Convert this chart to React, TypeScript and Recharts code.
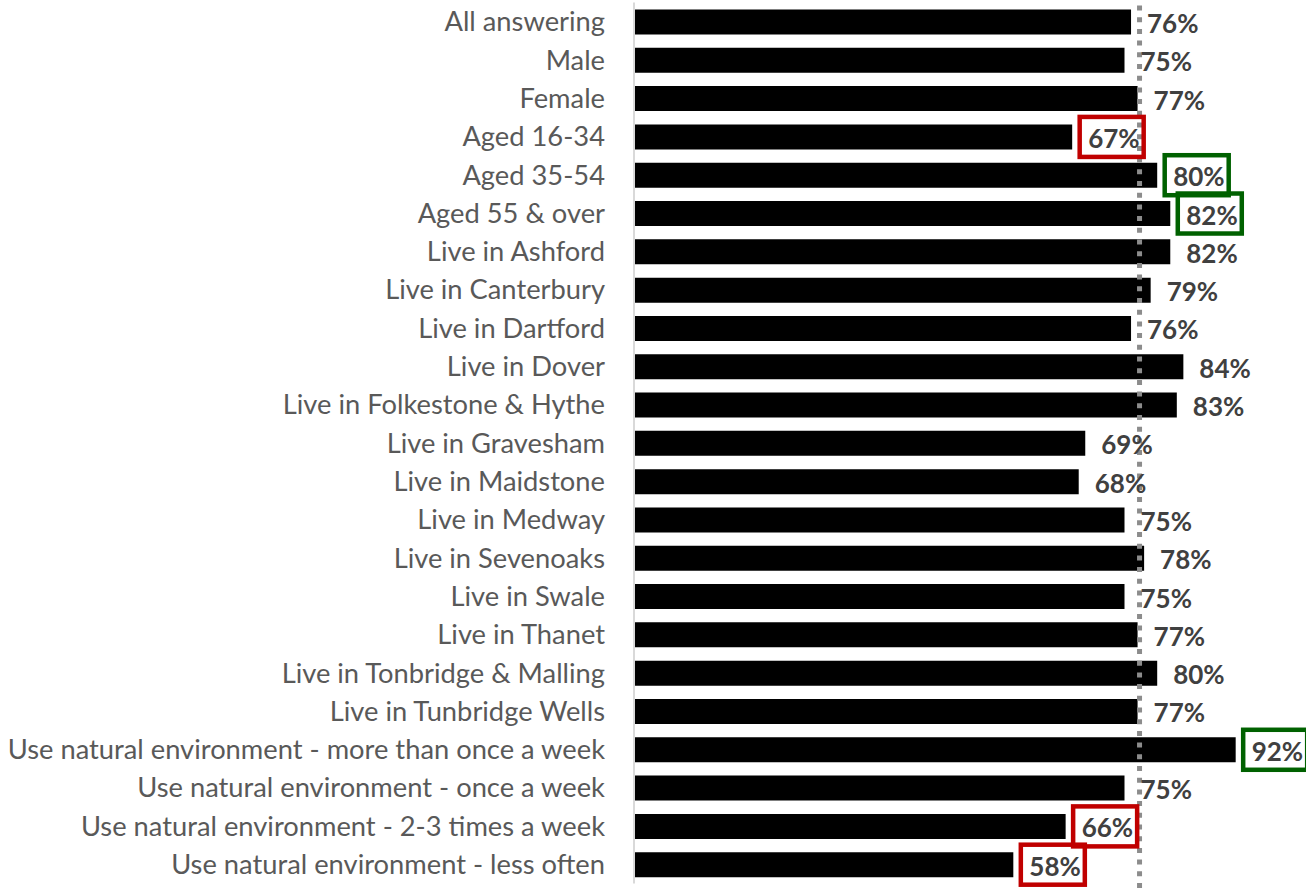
import { BarChart, Bar, XAxis, YAxis, LabelList, ReferenceLine } from "recharts";

const CATEGORIES = [
  "All answering",
  "Male",
  "Female",
  "Aged 16-34",
  "Aged 35-54",
  "Aged 55 & over",
  "Live in Ashford",
  "Live in Canterbury",
  "Live in Dartford",
  "Live in Dover",
  "Live in Folkestone & Hythe",
  "Live in Gravesham",
  "Live in Maidstone",
  "Live in Medway",
  "Live in Sevenoaks",
  "Live in Swale",
  "Live in Thanet",
  "Live in Tonbridge & Malling",
  "Live in Tunbridge Wells",
  "Use natural environment - more than once a week",
  "Use natural environment - once a week",
  "Use natural environment - 2-3 times a week",
  "Use natural environment - less often",
];

const VALUES = [76, 75, 77, 67, 80, 82, 82, 79, 76, 84, 83, 69, 68, 75, 78, 75, 77, 80, 77, 92, 75, 66, 58];

// "low" = significantly below average, "high" = significantly above
const FLAGS: (string | null)[] = [
  null, null, null, "low", "high", "high", null, null, null, null, null, null,
  null, null, null, null, null, null, null, "high", null, "low", "low",
];

const BENCHMARK = 77.3;

const FLAG_COLORS: Record<string, string> = { low: "#C00000", high: "#006100" };

const data = CATEGORIES.map((name, i) => ({ name, value: VALUES[i], flag: FLAGS[i] }));

const FONT = "Lato, 'Noto Sans', sans-serif";

function ValueLabel(props: any) {
  const { x, y, width, height, value, index } = props;
  const tx = x + width + 16;
  const cy = y + height / 2;
  const flag = FLAGS[index];
  return (
    <g>
      {flag && (
        <rect
          x={tx - 8.5}
          y={cy - 20}
          width={64}
          height={40}
          fill="none"
          stroke={FLAG_COLORS[flag]}
          strokeWidth={4.5}
        />
      )}
      <text
        x={tx}
        y={cy + 1}
        fill="#404040"
        fontFamily={FONT}
        fontWeight={700}
        fontSize={26}
        dominantBaseline="central"
        textAnchor="start"
      >
        {`${value}%`}
      </text>
    </g>
  );
}

export default function App() {
  return (
    <div style={{ position: "absolute", left: 0, top: 0, background: "#fff" }}>
      <BarChart
        width={1306}
        height={894}
        data={data}
        layout="vertical"
        margin={{ top: 2.5, right: 18, bottom: 10.5, left: 0 }}
        barSize={25}
      >
        <XAxis type="number" domain={[0, 100]} hide />
        <YAxis
          type="category"
          dataKey="name"
          width={634}
          interval={0}
          tickSize={0}
          tickMargin={29}
          axisLine={{ stroke: "#d9d9d9", strokeWidth: 2 }}
          tick={{ fill: "#595959", fontSize: 27.3, fontFamily: FONT }}
        />
        <Bar dataKey="value" fill="#000000" isAnimationActive={false}>
          <LabelList dataKey="value" content={ValueLabel} />
        </Bar>
        <ReferenceLine
          x={BENCHMARK}
          shape={(p: any) => (
            <line
              x1={p.x1}
              x2={p.x2}
              y1={Math.min(p.y1, p.y2) + 3}
              y2={Math.max(p.y1, p.y2) + 12}
              stroke="#8c8c8c"
              strokeWidth={5}
              strokeDasharray="5 6.7"
            />
          )}
        />
      </BarChart>
    </div>
  );
}
